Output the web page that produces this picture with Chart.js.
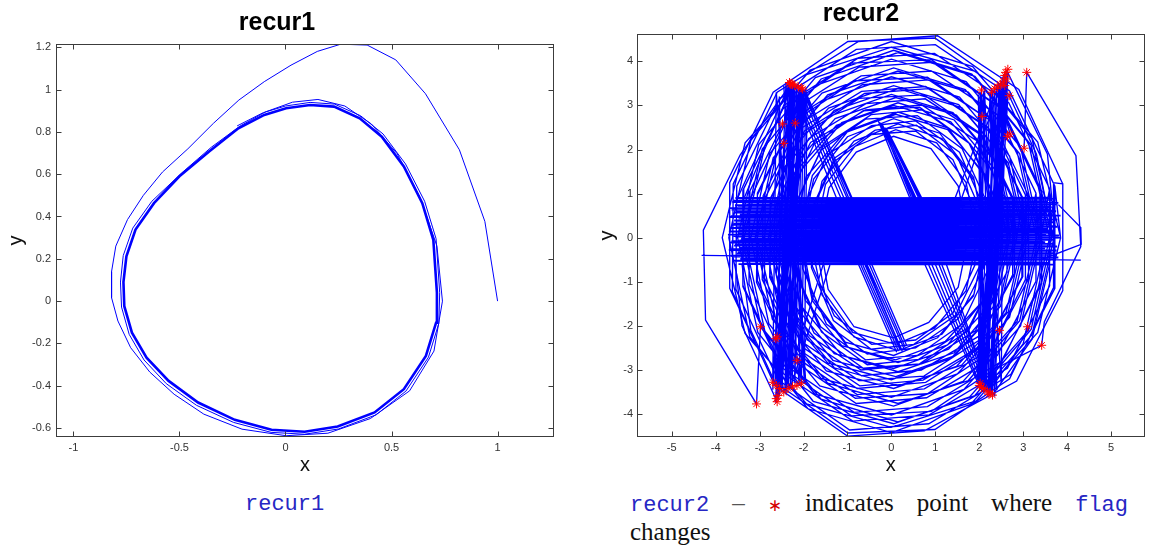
<!DOCTYPE html>
<html><head><meta charset="utf-8">
<script src="https://cdn.jsdelivr.net/npm/chart.js"></script>
<style>
html,body{margin:0;padding:0;background:#fff;width:1150px;height:548px;overflow:hidden;position:relative}
.box{position:absolute;top:0;width:575px;height:480px}
.cap{position:absolute;white-space:nowrap}
.mono{font-family:'Liberation Mono',monospace;font-size:22px;color:#2626c4;line-height:22px}
.serif{font-family:'Liberation Serif',serif;font-size:25px;color:#111;line-height:25px}
.star{font-family:'DejaVu Sans',sans-serif;font-size:17px;color:#d40000;line-height:17px}
</style></head><body>
<div class="box" style="left:0"><canvas id="c1" width="575" height="480" style="width:575px;height:480px"></canvas></div>
<div class="box" style="left:575px"><canvas id="c2" width="575" height="480" style="width:575px;height:480px"></canvas></div>
<div class="cap mono" style="left:245px;top:494px">recur1</div>
<div class="cap" style="left:630px;top:490px;width:498px;display:flex;justify-content:space-between;align-items:baseline">
<span class="mono">recur2</span><span class="serif" style="color:#555">–</span><span class="star">∗</span><span class="serif">indicates</span><span class="serif">point</span><span class="serif">where</span><span class="mono">flag</span>
</div>
<div class="cap serif" style="left:630px;top:519px">changes</div>
<script>
// ---------------- recur1 data ----------------
const r1FirstX = [1.0, 0.94, 0.82, 0.66, 0.52, 0.385, 0.26, 0.15, 0.026, -0.10, -0.22, -0.34, -0.46, -0.58, -0.67, -0.745, -0.80, -0.82, -0.82, -0.79, -0.73, -0.64, -0.525, -0.385, -0.205, 0.003, 0.20, 0.40, 0.585, 0.70, 0.74, 0.714, 0.636, 0.527, 0.405, 0.28, 0.153, 0.033, -0.092, -0.213];
const r1FirstY = [0, 0.377, 0.715, 0.98, 1.14, 1.21, 1.214, 1.18, 1.115, 1.037, 0.95, 0.84, 0.72, 0.61, 0.50, 0.385, 0.26, 0.14, 0.016, -0.094, -0.22, -0.335, -0.44, -0.534, -0.605, -0.636, -0.624, -0.555, -0.424, -0.236, 0, 0.26, 0.487, 0.696, 0.837, 0.922, 0.953, 0.94, 0.895, 0.828];
const r1SecondX = [-0.35, -0.49, -0.63, -0.72, -0.765, -0.778, -0.773, -0.737, -0.667, -0.562, -0.42, -0.245, -0.068, 0.09, 0.25, 0.428, 0.568, 0.674, 0.723, 0.727, 0.71, 0.656, 0.566, 0.46, 0.354, 0.231, 0.116, 0.0, -0.104, -0.228];
const r1SecondY = [0.727, 0.605, 0.472, 0.345, 0.215, 0.09, -0.028, -0.157, -0.278, -0.39, -0.492, -0.573, -0.62, -0.629, -0.604, -0.537, -0.425, -0.265, -0.105, 0.04, 0.295, 0.472, 0.648, 0.79, 0.876, 0.931, 0.939, 0.922, 0.891, 0.828];
const r1LimitX = [-0.36, -0.50, -0.62, -0.707, -0.75, -0.764, -0.76, -0.724, -0.655, -0.551, -0.412, -0.239, -0.066, 0.09, 0.246, 0.42, 0.558, 0.662, 0.71, 0.714, 0.697, 0.645, 0.558, 0.454, 0.35, 0.229, 0.116, 0.003, -0.10, -0.222, -0.36];
const r1LimitY = [0.707, 0.59, 0.463, 0.338, 0.212, 0.09, -0.024, -0.149, -0.267, -0.377, -0.479, -0.561, -0.608, -0.617, -0.592, -0.526, -0.416, -0.259, -0.102, 0.04, 0.29, 0.463, 0.636, 0.777, 0.864, 0.919, 0.927, 0.911, 0.88, 0.817, 0.707];
const r1XTicks = [-1, -0.5, 0, 0.5, 1];
const r1YTicks = [-0.6, -0.4, -0.2, 0, 0.2, 0.4, 0.6, 0.8, 1, 1.2];

// ---------------- recur2 data (flat x,y lists) ----------------
const r2Loops = [
[3.90,1.22, 2.90,3.36, 1.05,4.58, -0.75,4.45, -2.60,3.30, -3.60,1.22, -3.62,-1.22, -2.65,-3.36, -1.00,-4.50, 0.75,-4.38, 2.85,-3.25, 3.90,-1.20],
[3.68,1.25, 2.69,3.33, 0.99,4.53, -0.99,4.45, -2.69,3.30, -3.68,1.25, -3.68,-1.15, -2.69,-3.25, -0.99,-4.43, 0.99,-4.35, 2.69,-3.20, 3.68,-1.15],
[3.70,0, 3.20,2.25, 1.85,3.88, 0,4.45, -1.85,3.80, -3.20,2.21, -3.70,0, -3.22,-2.25, -1.90,-3.88, 0,-4.42, 1.80,-3.78, 3.20,-2.20],
[3.85,0, 3.33,2.17, 1.93,3.77, 0,4.32, -1.93,3.70, -3.33,2.15, -3.85,0, -3.33,-2.17, -1.93,-3.77, 0,-4.30, 1.93,-3.70, 3.33,-2.15],
[3.72,1.17, 2.75,3.20, 1.00,4.38, -0.80,4.27, -2.55,3.15, -3.52,1.17, -3.54,-1.17, -2.58,-3.22, -0.95,-4.36, 0.85,-4.22, 2.72,-3.10, 3.72,-1.15],
[3.60,0, 3.12,2.15, 1.83,3.71, 0.05,4.25, -1.73,3.63, -3.02,2.11, -3.50,0, -3.04,-2.15, -1.78,-3.71, 0.05,-4.22, 1.78,-3.61, 3.12,-2.10],
[3.65,0, 3.18,2.10, 1.90,3.66, 0.15,4.20, -1.60,3.60, -2.88,2.08, -3.35,0, -2.88,-2.12, -1.60,-3.66, 0.15,-4.18, 1.90,-3.58, 3.18,-2.08],
[3.60,1.11, 2.67,3.06, 0.98,4.18, -0.76,4.07, -2.43,3.01, -3.36,1.11, -3.38,-1.11, -2.46,-3.08, -0.88,-4.16, 0.86,-4.02, 2.64,-2.96, 3.60,-1.09],
[3.40,0, 2.94,2.05, 1.70,3.54, 0,4.05, -1.70,3.46, -2.94,2.01, -3.40,0, -2.96,-2.05, -1.75,-3.54, 0,-4.02, 1.65,-3.44, 2.94,-2.00],
[3.38,1.08, 2.47,2.96, 0.91,4.04, -0.91,3.96, -2.47,2.92, -3.38,1.08, -3.38,-1.08, -2.47,-2.96, -0.91,-4.04, 0.91,-3.94, 2.47,-2.90, 3.38,-1.06],
[3.42,1.06, 2.53,2.91, 0.93,3.98, -0.74,3.87, -2.33,2.86, -3.22,1.06, -3.24,-1.06, -2.36,-2.93, -0.85,-3.96, 0.82,-3.83, 2.50,-2.81, 3.42,-1.04],
[3.30,0, 2.86,1.95, 1.68,3.36, 0.05,3.85, -1.58,3.28, -2.77,1.91, -3.20,0, -2.79,-1.95, -1.63,-3.36, 0.05,-3.82, 1.63,-3.26, 2.86,-1.90],
[3.35,0, 2.92,1.90, 1.75,3.30, 0.15,3.78, -1.45,3.24, -2.62,1.88, -3.05,0, -2.62,-1.90, -1.45,-3.30, 0.15,-3.76, 1.75,-3.24, 2.92,-1.88],
[3.29,1.01, 2.44,2.77, 0.91,3.78, -0.69,3.67, -2.20,2.72, -3.05,1.01, -3.07,-1.01, -2.23,-2.79, -0.80,-3.76, 0.80,-3.63, 2.41,-2.67, 3.29,-0.99],
[3.10,0, 2.69,1.85, 1.55,3.19, 0,3.65, -1.55,3.11, -2.69,1.81, -3.10,0, -2.71,-1.85, -1.60,-3.19, 0,-3.62, 1.50,-3.09, 2.69,-1.80],
[3.05,0.97, 2.23,2.67, 0.82,3.64, -0.82,3.56, -2.23,2.63, -3.05,0.97, -3.05,-0.97, -2.23,-2.67, -0.82,-3.64, 0.82,-3.54, 2.23,-2.61, 3.05,-0.95],
[3.12,0.95, 2.31,2.62, 0.85,3.58, -0.66,3.47, -2.11,2.57, -2.92,0.95, -2.94,-0.95, -2.14,-2.64, -0.78,-3.56, 0.75,-3.43, 2.28,-2.52, 3.12,-0.93],
[3.00,0, 2.61,1.75, 1.53,3.02, 0.05,3.45, -1.43,2.94, -2.51,1.71, -2.90,0, -2.53,-1.75, -1.48,-3.02, 0.05,-3.42, 1.48,-2.92, 2.61,-1.70],
[2.97,0.91, 2.19,2.51, 0.78,3.43, -0.68,3.32, -2.09,2.46, -2.87,0.91, -2.89,-0.91, -2.12,-2.53, -0.78,-3.42, 0.78,-3.28, 2.16,-2.41, 2.97,-0.89],
[3.05,0, 2.66,1.70, 1.60,2.95, 0.15,3.38, -1.30,2.89, -2.36,1.68, -2.75,0, -2.36,-1.70, -1.30,-2.95, 0.15,-3.36, 1.60,-2.89, 2.66,-1.68],
[2.99,0.90, 2.22,2.47, 0.84,3.38, -0.61,3.27, -1.98,2.42, -2.75,0.90, -2.77,-0.90, -2.01,-2.49, -0.72,-3.36, 0.72,-3.23, 2.19,-2.37, 2.99,-0.88],
[2.85,0, 2.48,1.61, 1.48,2.78, 0.10,3.18, -1.28,2.70, -2.28,1.57, -2.65,0, -2.30,-1.61, -1.33,-2.78, 0.10,-3.15, 1.43,-2.68, 2.48,-1.56],
[2.76,0.86, 2.02,2.37, 0.74,3.24, -0.74,3.16, -2.02,2.33, -2.76,0.86, -2.76,-0.86, -2.02,-2.37, -0.74,-3.24, 0.74,-3.14, 2.02,-2.31, 2.76,-0.84],
[2.80,0, 2.43,1.65, 1.40,2.84, 0,3.25, -1.40,2.76, -2.43,1.61, -2.80,0, -2.45,-1.65, -1.45,-2.84, 0,-3.22, 1.35,-2.74, 2.43,-1.60],
[2.80,0.84, 2.08,2.30, 0.77,3.15, -0.58,3.04, -1.88,2.25, -2.60,0.84, -2.62,-0.84, -1.91,-2.32, -0.68,-3.13, 0.68,-3.00, 2.05,-2.20, 2.80,-0.82],
[2.70,0, 2.36,1.54, 1.43,2.67, 0.15,3.06, -1.13,2.61, -2.06,1.52, -2.40,0, -2.06,-1.54, -1.13,-2.67, 0.15,-3.04, 1.43,-2.61, 2.36,-1.52],
[2.63,0.80, 1.94,2.20, 0.69,3.01, -0.59,2.90, -1.84,2.16, -2.53,0.80, -2.55,-0.80, -1.87,-2.22, -0.69,-3.00, 0.69,-2.86, 1.91,-2.11, 2.63,-0.78],
[2.65,0, 2.30,1.52, 1.35,2.63, 0.05,3.00, -1.25,2.55, -2.20,1.48, -2.55,0, -2.22,-1.52, -1.30,-2.63, 0.05,-2.97, 1.30,-2.53, 2.30,-1.47],
[2.40,0.79, 1.76,2.16, 0.64,2.96, -0.64,2.88, -1.76,2.12, -2.40,0.79, -2.40,-0.79, -1.76,-2.16, -0.64,-2.96, 0.64,-2.86, 1.76,-2.10, 2.40,-0.77],
[2.42,0.77, 1.80,2.12, 0.70,2.90, -0.46,2.79, -1.56,2.07, -2.18,0.77, -2.20,-0.77, -1.59,-2.14, -0.55,-2.88, 0.62,-2.76, 1.77,-2.02, 2.42,-0.75],
[2.40,0, 2.10,1.43, 1.28,2.49, 0.15,2.85, -0.98,2.43, -1.80,1.41, -2.10,0, -1.80,-1.43, -0.98,-2.49, 0.15,-2.83, 1.28,-2.43, 2.10,-1.41],
[2.45,0, 2.14,1.42, 1.28,2.45, 0.10,2.80, -1.08,2.37, -1.94,1.38, -2.25,0, -1.96,-1.42, -1.13,-2.45, 0.10,-2.77, 1.23,-2.35, 2.14,-1.37],
[2.20,0.74, 1.61,2.02, 0.59,2.77, -0.59,2.69, -1.61,1.98, -2.20,0.74, -2.20,-0.74, -1.61,-2.02, -0.59,-2.77, 0.59,-2.67, 1.61,-1.96, 2.20,-0.72],
[2.15,0, 1.87,1.37, 1.10,2.37, 0.05,2.70, -1.00,2.29, -1.77,1.33, -2.05,0, -1.79,-1.37, -1.05,-2.37, 0.05,-2.67, 1.05,-2.27, 1.87,-1.32],
[2.10,0.70, 1.55,1.94, 0.55,2.65, -0.45,2.54, -1.45,1.89, -2.00,0.70, -2.02,-0.70, -1.48,-1.96, -0.55,-2.64, 0.55,-2.50, 1.52,-1.84, 2.10,-0.68],
[2.15,0, 1.88,1.30, 1.15,2.25, 0.15,2.58, -0.85,2.19, -1.58,1.28, -1.85,0, -1.58,-1.30, -0.85,-2.25, 0.15,-2.56, 1.15,-2.19, 1.88,-1.28],
[2.00,0.68, 1.49,1.86, 0.57,2.55, -0.37,2.44, -1.29,1.81, -1.80,0.68, -1.82,-0.68, -1.32,-1.88, -0.46,-2.53, 0.51,-2.42, 1.46,-1.76, 2.00,-0.66],
[1.95,0, 1.70,1.25, 1.03,2.15, 0.10,2.45, -0.83,2.07, -1.50,1.21, -1.75,0, -1.52,-1.25, -0.88,-2.15, 0.10,-2.42, 0.98,-2.05, 1.70,-1.20],
[1.90,0.64, 1.40,1.77, 0.55,2.42, -0.45,2.34, -1.30,1.73, -1.80,0.64, -1.80,-0.64, -1.30,-1.77, -0.45,-2.42, 0.55,-2.32, 1.40,-1.71, 1.90,-0.62],
[1.75,0, 1.52,1.17, 0.90,2.02, 0.05,2.30, -0.80,1.94, -1.42,1.13, -1.65,0, -1.44,-1.17, -0.85,-2.02, 0.05,-2.27, 0.85,-1.92, 1.52,-1.12]
];
const r2Band = [
-3.55,0.90, 3.70,0.88, -3.40,0.86, 3.55,0.83, -3.62,0.81, 3.80,0.79, -3.30,0.76, 3.45,0.74, -3.50,0.72, 3.65,0.69,
-3.68,0.67, 3.60,0.64, -3.35,0.62, 3.75,0.60, -3.58,0.57, 3.50,0.55, -3.45,0.52, 3.85,0.50, -3.70,0.47, 3.40,0.45,
-3.25,0.42, 3.62,0.40, -3.52,0.37, 3.70,0.35, -3.60,0.32, 3.48,0.30, -3.38,0.27, 3.78,0.25, -3.66,0.22, 3.55,0.20,
-3.48,0.17, 3.68,0.15, -3.30,0.12, 3.42,0.10, -3.72,0.07, 3.82,0.05, -3.55,0.02, 3.58,0.00, -3.42,-0.03, 3.72,-0.05,
-3.64,-0.08, 3.50,-0.10, -3.36,-0.13, 3.66,-0.15, -3.58,-0.18, 3.77,-0.20, -3.46,-0.23, 3.45,-0.25, -3.70,-0.28, 3.60,-0.30,
-3.50,-0.33, 3.70,-0.35, -3.32,-0.38, 3.52,-0.40, -3.62,-0.43, 3.80,-0.45, -3.44,-0.48, 3.63,-0.50, -3.56,-0.53, 3.48,-0.56,
-3.40,-0.59, 3.70,-0.61, -3.48,-0.60, 3.58,-0.57, -3.60,-0.52, 3.74,-0.49, -3.34,-0.46, 3.44,-0.44, -3.66,-0.41, 3.66,-0.39,
-3.52,-0.36, 3.56,-0.34, -3.42,-0.31, 3.76,-0.29, -3.64,-0.26, 3.50,-0.24, -3.38,-0.21, 3.62,-0.19, -3.56,-0.16, 3.72,-0.14,
-3.68,-0.11, 3.46,-0.09, -3.46,-0.06, 3.64,-0.04, -3.32,-0.01, 3.80,0.01, -3.60,0.04, 3.52,0.06, -3.50,0.09, 3.70,0.11,
-3.70,0.14, 3.58,0.16, -3.40,0.19, 3.48,0.21, -3.54,0.24, 3.74,0.26, -3.62,0.29, 3.60,0.31, -3.36,0.34, 3.44,0.36,
-3.58,0.39, 3.78,0.41, -3.48,0.44, 3.54,0.46, -3.66,0.49, 3.68,0.51, -3.30,0.54, 3.50,0.56, -3.54,0.59, 3.72,0.61,
-3.64,0.64, 3.46,0.66, -3.44,0.69, 3.62,0.71, -3.56,0.74, 3.76,0.76, -3.38,0.79, 3.52,0.81, -3.60,0.84, 3.66,0.86,
-3.46,0.89, 3.58,0.91
];
const r2LeftStripe = [-2.30,3.52, -2.62,-3.70, -2.25,3.48, -2.55,-3.55, -2.05,3.40, -2.35,-3.40, -2.20,3.45, -2.60,-3.62, -2.10,3.38, -2.30,-3.38, -2.28,3.50, -2.50,-3.50, -2.02,3.36, -2.20,-3.30, -2.15,3.42, -2.58,-3.68, -2.32,3.53, -2.42,-3.45, -2.08,3.39, -2.26,-3.36, -2.22,3.46, -2.64,-3.74, -2.00,3.35, -2.10,-3.30,
  -2.62,3.30, -2.70,-3.20, -1.92,3.30, -1.98,-3.25, -2.45,3.45, -2.05,-3.35, -1.95,3.38, -2.55,-3.60, -2.55,3.20, -2.40,-3.55, -2.00,3.30, -2.65,-3.30, -2.40,3.50, -1.95,-3.28, -2.35,3.49, -2.70,-3.45];
const r2RightStripe = [2.62,3.80, 2.28,-3.56, 2.55,3.70, 2.05,-3.38, 2.40,3.45, 2.20,-3.50, 2.30,3.35, 2.00,-3.35, 2.65,3.20, 2.25,-3.55, 2.50,3.55, 2.10,-3.42, 2.02,3.30, 1.98,-3.30, 2.58,3.75, 2.30,-3.58, 2.45,3.50, 2.15,-3.46, 2.35,3.40, 2.08,-3.40, 2.60,3.65, 2.22,-3.52, 2.10,3.32, 2.02,-3.36,
  2.05,3.32, 2.50,-3.30, 2.55,3.60, 1.95,-3.28, 2.25,3.30, 2.35,-3.60, 2.65,3.75, 2.12,-3.44, 1.98,3.25, 2.05,-3.32, 2.48,3.50, 2.26,-3.54, 2.60,3.40, 2.00,-3.34, 2.12,3.34, 2.40,-3.45];
const r2Strays = [
[3.02,2.03, 3.08,3.75, 4.20,1.86, 4.31,-0.20, 3.48,-1.91, 3.42,-2.44, 2.40,-2.95],
[-2.28,3.50, -3.44,1.88, -4.28,0.17, -4.23,-1.87, -3.07,-3.77, -2.98,-2.02],
[-4.32,-0.40, 4.31,-0.51],
[3.80,0.75, 4.31,0.23, 4.32,-0.15, 3.40,-0.50],
[-2.30,3.50, -3.25,1.45, -3.50,0.90],
[-2.25,3.47, -3.10,1.50, -3.35,0.90],
[-2.05,3.40, -2.90,1.55, -3.20,0.90],
[2.62,3.80, 3.55,1.90, 3.65,0.90],
[2.68,3.22, 3.30,1.90, 3.50,0.90],
[-2.60,-3.72, -3.40,-2.00, -3.55,-0.60],
[-2.55,-3.50, -3.20,-2.10, -3.40,-0.60],
[2.30,-3.57, 3.20,-2.30, 3.60,-0.60],
[2.20,-3.50, 3.00,-2.40, 3.40,-0.60],
[2.70,2.35, 2.40,3.45],
[-2.63,-2.29, -2.45,-3.50],
[-2.25,3.45, -1.15,0.90], [-2.10,3.40, -1.00,0.88], [-2.00,3.35, -0.95,0.85], [-2.30,3.50, -1.25,0.90], [-1.95,3.30, -0.85,0.80], [-2.18,3.42, -1.08,0.90], [-2.05,3.38, -0.90,0.86],
[0.85,-0.62, 2.05,-3.40], [1.00,-0.60, 2.20,-3.50], [1.15,-0.62, 2.30,-3.56], [0.75,-0.58, 1.98,-3.32], [1.25,-0.60, 2.25,-3.52], [0.92,-0.61, 2.12,-3.44], [1.08,-0.60, 2.26,-3.54],
[-0.25,2.60, 0.50,0.90], [-0.15,2.50, 0.62,0.90], [-0.30,2.65, 0.42,0.90], [-0.10,2.45, 0.70,0.88], [-0.20,2.55, 0.56,0.90], [-0.22,2.58, 0.46,0.90], [-0.12,2.48, 0.66,0.89], [-0.27,2.62, 0.53,0.90],
[-0.65,-0.62, 0.20,-2.55], [-0.55,-0.62, 0.28,-2.50], [-0.75,-0.60, 0.12,-2.60], [-0.45,-0.60, 0.35,-2.45], [-0.60,-0.62, 0.25,-2.58], [-0.70,-0.61, 0.16,-2.57], [-0.50,-0.61, 0.31,-2.48], [-0.58,-0.60, 0.22,-2.53],
[-1.40,-0.62, -2.30,-3.40], [-1.55,-0.60, -2.45,-3.50], [1.45,0.90, 2.45,3.50], [1.60,0.90, 2.55,3.65]
];
const r2StarX = [-2.32,-2.28,-2.25,-2.20,-2.12,-2.05,-2.02,-2.30, -2.48,-2.19,-2.45, 2.65,2.60,2.58,2.62,2.55,2.48,2.42,2.35,2.28,2.05,2.68,2.58, 3.08,2.70,2.64,3.02,2.06, -2.98,-2.63,-2.60,-3.07, -2.70,-2.62,-2.55,-2.45,-2.35,-2.25,-2.62,-2.60,-2.58,-2.15,-2.05,-2.15, 2.00,2.05,2.10,2.18,2.25,2.30,2.22,2.02, 3.10,3.42,2.46];
const r2StarY = [3.52,3.50,3.47,3.45,3.42,3.40,3.37,3.48, 2.58,2.60,2.14, 3.82,3.75,3.68,3.60,3.55,3.48,3.42,3.38,3.30,3.35,3.22,3.45, 3.75,2.35,2.30,2.03,2.75, -2.02,-2.29,-2.25,-3.77, -3.28,-3.35,-3.42,-3.50,-3.42,-3.38,-3.65,-3.72,-3.58,-3.35,-3.30,-2.78, -3.35,-3.40,-3.42,-3.48,-3.52,-3.57,-3.55,-3.30, -2.02,-2.44,-2.10];
const r2XTicks = [-5, -4, -3, -2, -1, 0, 1, 2, 3, 4, 5];
const r2YTicks = [-4, -3, -2, -1, 0, 1, 2, 3, 4];

// ---------------- helpers ----------------
const GAP = {x: NaN, y: NaN};
const fromXY = (xs, ys) => xs.map((v, i) => ({x: v, y: ys[i]}));
const fromFlat = a => { const o = []; for (let i = 0; i < a.length; i += 2) o.push({x: a[i], y: a[i + 1]}); return o; };
const closedFlat = a => { const o = fromFlat(a); o.push({x: o[0].x, y: o[0].y}); return o; };
const joinGaps = list => { const o = []; list.forEach((p, i) => { if (i) o.push(GAP); o.push(...p); }); return o; };

Chart.defaults.font.family = "'Liberation Sans', Arial, sans-serif";

const frame = {
  id: 'frame',
  afterDraw(chart) {
    const {ctx, chartArea: a, scales} = chart;
    const x = scales.x, y = scales.y;
    ctx.save();
    ctx.strokeStyle = '#3c3c3c';
    ctx.lineWidth = 1;
    const L = Math.round(a.left) + 0.5, R = Math.round(a.right) - 0.5, T = Math.round(a.top) + 0.5, B = Math.round(a.bottom) - 0.5;
    ctx.beginPath();
    x.ticks.forEach(t => { const p = Math.round(x.getPixelForValue(t.value)) + 0.5; ctx.moveTo(p, B); ctx.lineTo(p, B - 5); ctx.moveTo(p, T); ctx.lineTo(p, T + 5); });
    y.ticks.forEach(t => { const p = Math.round(y.getPixelForValue(t.value)) + 0.5; ctx.moveTo(L, p); ctx.lineTo(L + 5, p); ctx.moveTo(R, p); ctx.lineTo(R - 5, p); });
    ctx.stroke();
    ctx.strokeRect(L, T, R - L, B - T);
    ctx.restore();
  }
};

function makeChart(id, datasets, o) {
  const tickFont = {family: "'Liberation Sans', Arial, sans-serif", size: 11};
  const labFont = {family: "'Liberation Sans', Arial, sans-serif", size: 20, lineHeight: 1};
  return new Chart(document.getElementById(id), {
    type: 'scatter',
    data: {datasets},
    plugins: [frame],
    options: {
      responsive: false, animation: false, devicePixelRatio: 1, events: [],
      layout: {padding: {left: 0, right: o.rightPad, top: 0, bottom: 0}},
      plugins: {
        legend: {display: false}, tooltip: {enabled: false},
        title: {display: true, text: o.title, color: '#000',
          font: {family: "'Liberation Sans', Arial, sans-serif", size: 25, weight: 'bold', lineHeight: 1},
          padding: {top: o.titleTop, bottom: o.titleBottom}}
      },
      scales: {
        x: {type: 'linear', min: o.xMin, max: o.xMax,
          afterBuildTicks: s => { s.ticks = o.xTicks.map(v => ({value: v})); },
          afterFit: s => { s.height = 43; },
          grid: {display: false, drawTicks: false}, border: {display: false},
          ticks: {autoSkip: false, maxRotation: 0, padding: 4, color: '#333', font: tickFont, callback: v => String(v)},
          title: {display: true, text: 'x', color: '#111', font: labFont, padding: {top: 0, bottom: 5}}},
        y: {type: 'linear', min: o.yMin, max: o.yMax,
          afterBuildTicks: s => { s.ticks = o.yTicks.map(v => ({value: v})); },
          afterFit: s => { s.width = o.yWidth; },
          grid: {display: false, drawTicks: false}, border: {display: false},
          ticks: {autoSkip: false, padding: o.yTickPad, color: '#333', font: tickFont, callback: v => String(v)},
          title: {display: true, text: 'y', color: '#111', font: labFont, padding: {top: o.yTitlePad, bottom: 0}}}
      }
    }
  });
}

const blueLine = {showLine: true, borderColor: '#0000ff', backgroundColor: '#0000ff', borderWidth: 1, pointRadius: 0, tension: 0, fill: false, spanGaps: false, order: 2};
const blueLine2 = Object.assign({}, blueLine, {borderWidth: 1.35});

makeChart('c1', [
  Object.assign({}, blueLine, {data: fromXY(r1FirstX, r1FirstY).concat(fromXY(r1SecondX, r1SecondY))}),
  Object.assign({}, blueLine, {data: fromXY(r1LimitX, r1LimitY), borderWidth: 2.6})
], {title: 'recur1', titleTop: 10.5, titleBottom: 8.5, rightPad: 21, yWidth: 56, yTickPad: 5, yTitlePad: 6,
    xMin: -1.082, xMax: 1.266, yMin: -0.642, yMax: 1.215, xTicks: r1XTicks, yTicks: r1YTicks});

const loopPath = [];
r2Loops.forEach(l => loopPath.push(...closedFlat(l)));
makeChart('c2', [
  {type: 'scatter', data: fromXY(r2StarX, r2StarY), showLine: false, pointStyle: 'star', pointRadius: 4.5,
   borderColor: '#ff0000', backgroundColor: '#ff0000', borderWidth: 1, order: 0},
  Object.assign({}, blueLine2, {data: loopPath}),
  Object.assign({}, blueLine2, {data: fromFlat(r2Band), borderWidth: 1.9}),
  Object.assign({}, blueLine2, {data: fromFlat(r2LeftStripe)}),
  Object.assign({}, blueLine2, {data: fromFlat(r2RightStripe)}),
  Object.assign({}, blueLine2, {data: joinGaps(r2Strays.map(fromFlat))})
], {title: 'recur2', titleTop: 1.5, titleBottom: 7.5, rightPad: 3, yWidth: 62, yTickPad: 4, yTitlePad: 22,
    xMin: -5.79, xMax: 5.76, yMin: -4.52, yMax: 4.62, xTicks: r2XTicks, yTicks: r2YTicks});
</script>
</body></html>
